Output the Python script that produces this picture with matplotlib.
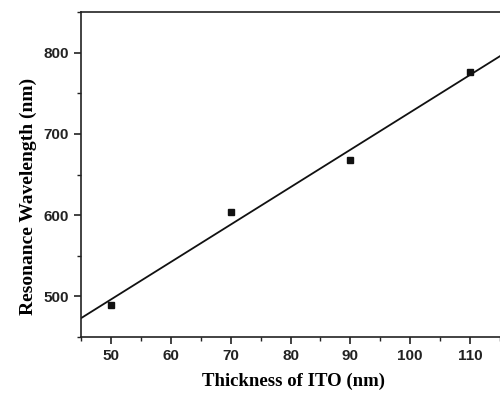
import numpy as np
import matplotlib
matplotlib.use("Agg")
import matplotlib.pyplot as plt
from matplotlib.ticker import MultipleLocator

# Data
thickness = [50, 70, 90, 110]
wavelength = [490, 604, 668, 776]

# linear fit
slope, intercept = np.polyfit(thickness, wavelength, 1)
fit_x = np.array([45, 115])
fit_y = slope * fit_x + intercept

fig = plt.figure(figsize=(5.0, 3.93), dpi=100)
ax = fig.add_axes([0.162, 0.1425, 0.838, 0.8265])

ax.plot(fit_x, fit_y, color="#111111", linewidth=1.3)
ax.plot(thickness, wavelength, "s", color="#111111", markersize=4.5)

ax.set_xlim(45, 115)
ax.set_ylim(450, 850)
ax.xaxis.set_major_locator(MultipleLocator(10))
ax.xaxis.set_minor_locator(MultipleLocator(5))
ax.yaxis.set_major_locator(MultipleLocator(100))
ax.yaxis.set_minor_locator(MultipleLocator(50))
ax.set_yticks([500, 600, 700, 800])

ax.spines["right"].set_visible(False)
for s in ["left", "bottom", "top"]:
    ax.spines[s].set_linewidth(1.2)
    ax.spines[s].set_color("#222222")

ax.tick_params(which="major", direction="out", length=5, width=1.2, color="#222222")
ax.tick_params(which="minor", direction="out", length=3, width=1.0, color="#222222")
for lab in ax.get_xticklabels() + ax.get_yticklabels():
    lab.set_fontfamily("Liberation Sans")
    lab.set_fontweight("bold")
    lab.set_fontsize(11)
    lab.set_color("#222222")

ax.set_xlabel("Thickness of ITO (nm)", fontfamily="Liberation Serif",
              fontweight="bold", fontsize=13.5)
ax.set_ylabel("Resonance Wavelength (nm)", fontfamily="Liberation Serif",
              fontweight="bold", fontsize=14)
ax.xaxis.set_label_coords(0.507, -0.11)
ax.yaxis.set_label_coords(-0.106, 0.434)

fig.savefig("out.png", dpi=100)
